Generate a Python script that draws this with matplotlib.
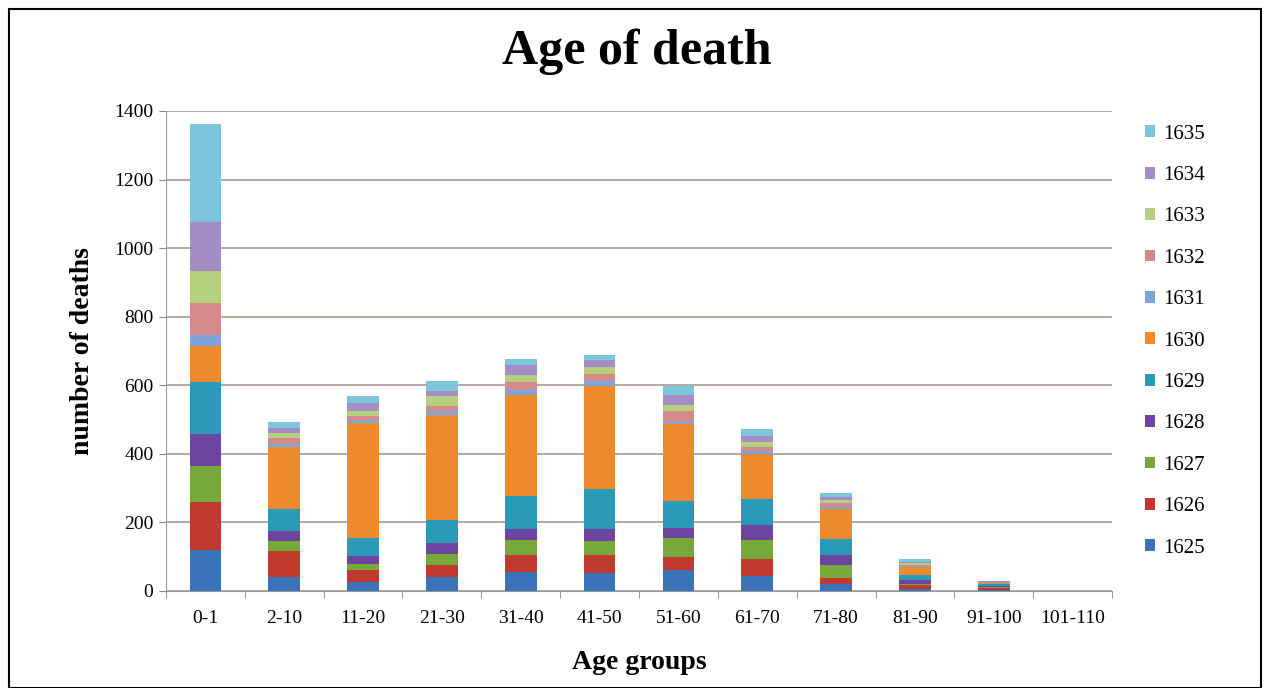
import numpy as np
import matplotlib.pyplot as plt
from matplotlib.patches import Patch, Rectangle

plt.rcParams['font.family'] = ['Liberation Serif', 'DejaVu Serif']

age_groups = ["0-1", "2-10", "11-20", "21-30", "31-40", "41-50", "51-60",
              "61-70", "71-80", "81-90", "91-100", "101-110"]
years = ["1625", "1626", "1627", "1628", "1629", "1630",
         "1631", "1632", "1633", "1634", "1635"]

# deaths per year and age group
d1625 = [119, 42, 26, 41, 56, 53, 62, 45, 21, 7, 3, 0]
d1626 = [142, 75, 36, 34, 48, 53, 38, 47, 18, 10, 7, 0]
d1627 = [103, 29, 18, 32, 46, 40, 55, 58, 36, 4, 2, 0]
d1628 = [93, 28, 21, 32, 31, 36, 29, 42, 29, 10, 3, 0]
d1629 = [153, 65, 55, 68, 96, 115, 78, 76, 49, 15, 4, 0]
d1630 = [104, 182, 334, 307, 296, 302, 225, 132, 85, 24, 5, 0]
d1631 = [32, 8, 10, 12, 14, 13, 5, 7, 6, 3, 1, 0]
d1632 = [93, 18, 11, 14, 22, 22, 34, 13, 12, 4, 1, 0]
d1633 = [93, 14, 15, 28, 22, 20, 17, 16, 9, 4, 1, 0]
d1634 = [143, 15, 22, 16, 27, 19, 30, 17, 10, 4, 1, 0]
d1635 = [286, 17, 22, 27, 20, 16, 26, 19, 10, 7, 1, 0]

series = [d1625, d1626, d1627, d1628, d1629, d1630,
          d1631, d1632, d1633, d1634, d1635]
colors = ['#3a73b8', '#c0392f', '#76a83a', '#6b45a0', '#2a9ab8', '#ec8a2c',
          '#7fa4dc', '#d58a8a', '#b5d07f', '#a48dc4', '#7cc5dc']

fig = plt.figure(figsize=(12.68, 6.88), dpi=100)
ax = fig.add_axes([0.1309, 0.141, 0.7461, 0.6977])

x = np.arange(len(age_groups))
bottom = np.zeros(len(age_groups))
for vals, col in zip(series, colors):
    ax.bar(x, vals, 0.4, bottom=bottom, color=col, zorder=3)
    bottom += np.array(vals)

ax.set_ylim(0, 1400)
ax.set_xlim(-0.5, len(age_groups) - 0.5)
ax.set_yticks(np.arange(0, 1401, 200))
ax.yaxis.grid(True, color='#a89a94', linewidth=1.2, zorder=0)
ax.set_xticks(x)
ax.set_xticklabels(age_groups, fontsize=14)
ax.set_xticks(np.arange(-0.5, len(age_groups)), minor=True)
ax.tick_params(axis='x', which='major', length=0, pad=14)
ax.tick_params(axis='x', which='minor', length=5, color='#888888')
ax.tick_params(axis='y', labelsize=14, length=5, color='#888888', pad=4)

for s in ['top', 'right']:
    ax.spines[s].set_visible(False)
ax.spines['left'].set_color('#999999')
ax.spines['bottom'].set_color('#999999')

ax.set_ylabel("number of deaths", fontsize=20, fontweight='bold', labelpad=14)
ax.set_xlabel("Age groups", fontsize=20, fontweight='bold', labelpad=16)
fig.text(0.502, 0.925, "Age of death", ha='center', va='center',
         fontsize=36, fontweight='bold')

handles = [Patch(facecolor=c, label=y) for y, c in zip(years, colors)]
fig.legend(handles[::-1], years[::-1], loc='upper left',
           bbox_to_anchor=(0.888, 0.846), frameon=False, fontsize=15,
           handlelength=0.5, handleheight=0.5, handletextpad=0.4,
           labelspacing=1.075)

fig.patches.append(Rectangle((9 / 1268, 0), 1252 / 1268, 679 / 688,
                             transform=fig.transFigure, fill=False,
                             edgecolor='black', linewidth=1.5))

fig.savefig("out.png", dpi=100)
